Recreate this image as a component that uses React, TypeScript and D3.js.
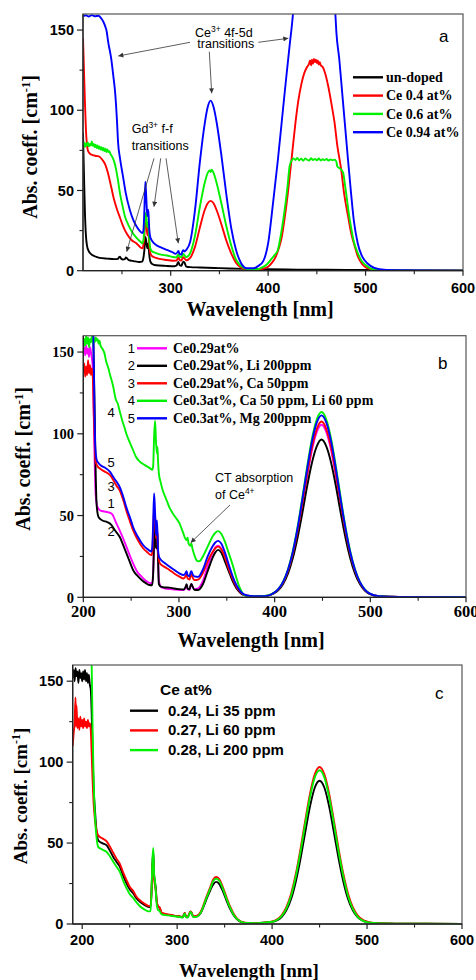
import React from "react";
import * as d3 from "d3";

type Pt = [number, number];

const SERIF = "'Liberation Serif', 'Times New Roman', serif";
const SANS = "'Liberation Sans', Arial, sans-serif";

// ---------- panel a ----------
const legendA = ["un-doped", "Ce 0.4 at%", "Ce 0.6 at%", "Ce 0.94 at%"];
const colorsA = ["#000000", "#ff0000", "#00f000", "#0000ff"];

const undopedA: Pt[] = [
  [210, 86], [211, 60], [212, 36], [213, 22], [214, 16], [216, 12], [218, 10.5], [222, 9], [227, 8],
  [235, 7.5], [242, 7.2], [246, 7.4], [247, 8.5], [248, 8.8], [249, 7.6], [251, 7], [253, 7.2],
  [254, 8.3], [255, 7.8], [257, 6.6], [262, 6], [268, 5.4], [271, 5.8], [272, 8], [273, 13], [274, 21],
  [275, 18], [276, 14], [277, 17], [278, 10], [279, 6], [281, 4.2], [285, 3.4], [295, 3], [304, 2.8],
  [306, 3.2], [307, 4.6], [308, 5.5], [309, 3.6], [311, 3], [312, 4.5], [313, 5.6], [314, 5.2],
  [316, 2.6], [320, 2.2], [330, 2], [345, 1.7], [360, 1.4], [380, 1.1], [400, 0.9], [430, 0.7],
  [460, 0.6], [500, 0.4], [550, 0.2], [600, 0.1],
];

const ce04A: Pt[] = [
  [210, 145], [211, 125], [212, 105], [213, 88], [214, 79], [215, 75], [217, 73], [220, 72], [224, 71.5],
  [227, 71], [230, 69], [233, 66], [236, 60], [239, 52], [242, 44], [245, 38], [248, 33], [251, 28],
  [255, 23], [260, 19], [265, 17], [269, 14.5], [271, 14], [272, 16], [273, 22], [274, 32], [275, 30],
  [276, 22], [277, 26], [278, 16], [279, 11], [281, 9], [285, 8], [290, 7.2], [296, 6.7], [302, 6.2],
  [306, 6.3], [307, 7.5], [308, 8.2], [309, 6.8], [311, 6.3], [312, 7.6], [313, 8.4], [314, 7.8],
  [316, 6.5], [320, 8], [325, 15], [330, 27], [335, 38], [338, 42], [341, 43.5], [344, 42], [347, 38],
  [352, 29], [357, 19], [362, 11], [367, 5], [372, 2], [378, 0.8], [386, 0.6], [393, 1], [400, 2.5],
  [404, 5], [408, 9], [411, 14], [414, 21], [417, 33], [420, 47], [422, 58], [425, 75], [428, 92],
  [431, 106], [434, 116], [437, 123], [440, 127], [442, 129], [443, 131], [444, 128], [445, 131.5],
  [446, 129], [447, 132], [448, 130], [449, 131.5], [450, 129.5], [451, 131], [452, 128.5], [453, 130],
  [454, 128], [456, 127], [459, 122], [462, 114], [465, 104], [468, 93], [471, 78], [475, 63], [478, 48],
  [482, 34], [485, 24], [489, 15], [492, 9], [496, 4.5], [500, 2.2], [505, 1], [512, 0.4], [530, 0.1],
  [600, 0],
];

const ce06A: Pt[] = [
  [210, 78], [211, 80], [212, 77], [213, 79.5], [214, 78], [215, 80], [216, 77.5], [217, 79], [218, 78],
  [219, 80.5], [220, 77.8], [221, 79], [222, 77], [223, 78.5], [224, 76.5], [225, 78], [226, 76],
  [227, 77.5], [228, 75.5], [229, 77], [230, 75], [231, 76.5], [232, 74.5], [233, 76], [234, 74],
  [235, 75.5], [236, 74], [237, 74.5], [238, 73], [240, 71], [242, 68], [244, 63], [246, 56], [248, 48],
  [250, 42], [253, 34], [257, 28], [261, 23.5], [265, 20.5], [269, 18], [271, 17], [272, 19], [273, 26],
  [274, 36], [275, 34], [276, 27], [277, 30], [278, 20], [279, 14], [281, 12], [285, 11], [290, 10],
  [296, 9.5], [302, 8.5], [306, 8.3], [307, 9.5], [308, 10.2], [309, 8.8], [311, 8.3], [312, 9.6],
  [313, 10.4], [314, 9.8], [316, 8.5], [320, 11], [325, 22], [330, 40], [335, 55], [338, 61], [340, 62.5],
  [341, 61.5], [342, 63], [344, 61], [347, 55], [352, 42], [357, 28], [362, 16], [367, 7], [372, 3],
  [378, 1], [386, 0.8], [392, 1.5], [398, 3.5], [403, 7], [407, 10], [410, 13], [413, 22], [417, 38],
  [420, 53], [422, 65], [424, 68.5], [426, 70], [428, 69], [430, 70.2], [432, 68.8], [434, 69.8],
  [436, 68.5], [438, 70], [440, 69.2], [442, 68.6], [444, 70.1], [446, 69], [448, 69.7], [450, 68.8],
  [452, 69.9], [454, 68.7], [456, 69.5], [458, 68.9], [460, 69.6], [462, 68.6], [464, 69.4], [466, 68.8],
  [468, 69.2], [470, 68], [471, 65], [473, 64], [475, 63], [477, 61], [479, 53], [481, 44], [483, 35],
  [485, 27.5], [488, 18], [492, 11], [496, 6], [500, 3.5], [505, 1.5], [512, 0.5], [530, 0.1], [600, 0],
];

const ce094A: Pt[] = [
  [210, 158.5], [213, 159.2], [216, 158.4], [219, 159.3], [222, 158.6], [226, 158.9], [229, 157],
  [231, 155], [233, 152], [234, 150], [236, 142], [239, 132], [241, 122], [243, 111], [245, 92], [246, 80],
  [248, 70], [251, 59], [254, 48], [258, 38], [262, 31], [265, 27.5], [268, 25], [271, 23.5], [272, 25],
  [273, 38], [274, 55.5], [275, 45], [276, 34], [277, 38], [278, 26], [279, 21], [281, 18.5], [285, 16],
  [290, 14.5], [296, 13], [302, 11.5], [305, 10.5], [307, 11.5], [308, 12.3], [309, 10.5], [311, 10],
  [312, 12], [313, 12.8], [314, 12], [316, 13], [320, 18], [325, 38], [330, 68], [335, 92], [338, 102],
  [341, 106], [344, 102], [347, 93], [352, 72], [357, 48], [362, 27], [367, 13], [372, 5], [378, 1.5],
  [385, 1.5], [390, 3], [395, 6], [400, 17], [405, 42], [410, 69], [414, 93], [418, 117], [422, 140],
  [425.5, 160], [427, 172], [467, 172], [469, 160], [470, 149], [473, 132], [476, 111], [479, 90],
  [482, 69], [485, 49], [488, 31], [492, 17], [496, 9.5], [499, 6.5], [505, 3], [514, 1], [530, 0.3],
  [600, 0],
];

// ---------- panel b ----------
const legendB = [
  "Ce0.29at%",
  "Ce0.29at%, Li 200ppm",
  "Ce0.29at%, Ca 50ppm",
  "Ce0.3at%, Ca 50 ppm, Li 60 ppm",
  "Ce0.3at%, Mg 200ppm",
];
const colorsB = ["#ff00ff", "#000000", "#ff0000", "#00f000", "#0000ff"];
const curveTagsB: [string, number][] = [["4", 416.7], ["5", 466.7], ["3", 491], ["1", 507.7], ["2", 535.7]];

const s1B: Pt[] = [
  [200, 150], [201, 153], [202, 148], [203, 154], [204, 149], [205, 152], [206, 147], [207, 153],
  [208, 150], [209, 146], [210, 140], [211, 110], [212, 80], [213, 62], [215, 55], [218, 53],
  [222, 52.5], [226, 52], [230, 51], [234, 46], [238, 41], [242, 35.5], [245, 31], [249, 25],
  [252, 20.8], [256, 16], [261, 12.6], [265, 10.3], [269, 8.8], [272, 8.6], [273, 15], [274, 36],
  [275, 45], [276, 30], [277, 44], [278, 28], [279, 10], [281, 6.5], [285, 5.5], [290, 5], [295, 4.8],
  [300, 4.5], [305, 4.4], [307, 6], [308, 7.5], [309, 5], [311, 4.5], [312, 6.5], [313, 8], [314, 6.8],
  [316, 5], [320, 5.5], [325, 10], [330, 19], [335, 27], [338, 30.5], [341, 31.5], [344, 30], [348, 25],
  [352, 18], [356, 12], [360, 7], [364, 3.5], [368, 1.6], [375, 0.7], [385, 0.6], [393, 1],
  [399, 2.6], [404, 4.8], [409, 9], [414, 16], [419, 26.5], [424, 40], [429, 56.5], [434, 74], [439, 90],
  [444, 101], [449, 105.5], [454, 101], [459, 90], [464, 74], [469, 56.5], [474, 40], [479, 26.2],
  [484, 15.8], [489, 8.9], [494, 4.6], [499, 2.3], [509, 0.6], [530, 0.2], [600, 0.1],
];

const s2B: Pt[] = [
  [200, 175], [209, 175], [210.4, 160], [212, 110], [213, 75], [214, 56], [216, 49], [220, 47],
  [225, 46], [229, 44.5], [233, 41], [238, 37], [242, 31.5], [245, 27], [249, 21], [252, 16.7],
  [256, 13.5], [261, 10.6], [265, 8.8], [269, 7.5], [272, 7.4], [273, 14], [274, 35], [274.5, 47],
  [275.5, 32], [276.5, 30], [277, 43], [278, 26], [279, 8], [281, 6.5], [285, 6], [290, 5.9], [295, 5.4],
  [300, 5], [305, 4.8], [307, 6.5], [308, 8], [309, 5.3], [311, 4.9], [312, 7], [313, 8.1], [314, 7],
  [316, 4.6], [320, 4.5], [325, 8], [330, 16], [335, 24], [338, 27.5], [341, 29], [344, 27.5], [348, 22],
  [352, 16], [356, 10], [360, 5.5], [364, 2.8], [368, 1.3], [375, 0.6], [385, 0.5], [393, 0.9],
  [399, 2.3], [404, 4.4], [409, 8.3], [414, 14.6], [419, 24], [424, 36.6], [429, 51.7], [434, 68],
  [439, 82.3], [444, 92.3], [449, 96.5], [454, 92.3], [459, 82.3], [464, 68], [469, 51.7], [474, 36.6],
  [479, 23.9], [484, 14.5], [489, 8.2], [494, 4.2], [499, 2.1], [509, 0.6], [530, 0.2], [600, 0.1],
];

const s3B: Pt[] = [
  [200, 138], [201, 143], [202, 135], [203, 141], [204, 136], [205, 145], [206, 137], [207, 142],
  [208, 136], [209, 140], [210, 134], [211, 112], [212, 92], [213, 83], [215, 80], [218, 78.5],
  [222, 77], [228, 74.7], [232, 71], [235, 68], [238, 65.5], [242, 59], [245, 53], [249, 46], [252, 41],
  [257, 35], [262.5, 30], [267, 27.5], [271, 25.8], [272, 27], [273, 40], [274, 55], [275, 50],
  [276, 36], [277, 42], [278, 28], [279, 23], [280, 20.8], [285, 18.6], [290, 16.7], [295, 14.6],
  [300, 12.8], [305, 11.5], [307, 13], [308, 14], [309, 11.5], [311, 10.8], [312, 13], [313, 14],
  [314, 12.5], [316, 10.5], [320, 10.8], [325, 15], [330, 22], [335, 27.5], [338, 30], [341, 31],
  [344, 29.5], [348, 24.5], [352, 17.5], [356, 11.5], [360, 6.5], [364, 3.3], [368, 1.5], [375, 0.7],
  [385, 0.6], [393, 1], [399, 2.6], [404, 4.9], [409, 9.2], [414, 16.3], [419, 26.8], [424, 40.8],
  [429, 57.7], [434, 75.6], [439, 91.7], [444, 102.9], [449, 107.5], [454, 102.9], [459, 91.7],
  [464, 75.6], [469, 57.7], [474, 40.8], [479, 26.6], [484, 16.2], [489, 9.1], [494, 4.7], [499, 2.3],
  [509, 0.6], [530, 0.2], [600, 0.1],
];

const s4B: Pt[] = [
  [200, 152], [201, 158], [202, 154], [203, 160], [204, 155], [205, 159], [206, 153], [207, 158],
  [208, 156], [209, 160], [210, 155], [211, 158], [212, 156], [213, 159], [214, 157], [215, 158],
  [216, 155], [217, 157], [218, 154], [220, 152], [222, 149.5], [224, 144], [226, 140.5], [228, 136],
  [231, 129.5], [234, 121], [236, 118.5], [238, 114], [241, 107.5], [243, 104], [245, 100], [248, 95.5],
  [252, 90], [255, 86], [259, 83], [264, 81], [269.5, 79], [272, 78], [273, 80], [274, 98], [275, 108],
  [276, 95], [277, 88], [277.5, 92], [278, 85], [279, 75.7], [281, 70], [283, 65.5], [286, 61],
  [290, 55], [295, 50], [300.7, 45], [304, 40], [307.7, 35], [309, 36.5], [310, 33], [312, 31.5],
  [313, 33], [314, 30], [316, 26], [318, 23], [320, 22], [322, 22.3], [325, 25], [330, 31], [335, 37],
  [338, 39.5], [341, 40.5], [344, 39], [348, 34], [352, 27], [356, 20], [360, 12], [363, 6.5], [366, 3],
  [368, 1.4], [375, 0.8], [385, 0.7], [393, 1.2], [399, 2.7], [404, 5.2], [409, 9.8], [414, 17.2],
  [419, 28.4], [424, 43.2], [429, 61.2], [434, 80], [439, 97], [444, 108.7], [449, 113.3], [454, 108.7],
  [459, 97], [464, 80], [469, 61.2], [474, 43], [479, 28.2], [484, 17], [489, 9.6], [494, 5], [499, 2.5],
  [509, 0.7], [530, 0.2], [600, 0.1],
];

const s5B: Pt[] = [
  [200, 175], [209, 175], [210.5, 160], [211.5, 120], [212.5, 92], [214, 84], [216, 82], [218, 80.8],
  [222, 79.5], [228, 76.7], [232, 73], [235, 70.5], [238, 67.5], [242, 61], [245, 55], [249, 48.5],
  [252, 43], [257, 37], [262.5, 32], [267, 29.5], [271, 28], [272, 30], [273, 45], [274, 63.5],
  [275, 52], [276, 38], [277, 47], [278, 30], [279, 25], [280, 23.8], [285, 21], [290, 18.8],
  [295, 16.8], [300, 14.8], [305, 13.6], [307, 15], [308, 16], [309, 13.5], [311, 12.8], [312, 15],
  [313, 16], [314, 14.5], [316, 12.8], [320, 12.5], [325, 17], [330, 25], [335, 31], [338, 33.5],
  [341, 34.5], [344, 33], [348, 27.5], [352, 20], [356, 13], [360, 7.5], [364, 3.8], [368, 1.8],
  [375, 0.8], [385, 0.6], [393, 1], [399, 2.6], [404, 5.1], [409, 9.6], [414, 17], [419, 27.8],
  [424, 42.4], [429, 60], [434, 78.6], [439, 95.2], [444, 106.8], [449, 111.3], [454, 106.8],
  [459, 95.2], [464, 78.6], [469, 59.8], [474, 42.3], [479, 27.6], [484, 16.8], [489, 9.4], [494, 4.9],
  [499, 2.4], [509, 0.7], [530, 0.2], [600, 0.1],
];

// ---------- panel c ----------
const legendC = ["0.24, Li 35 ppm", "0.27, Li 60 ppm", "0.28, Li 200 ppm"];
const colorsC = ["#000000", "#ff0000", "#00f000"];

const li35C: Pt[] = [
  [190, 152], [191, 157], [192, 150], [193, 158], [194, 153], [195, 156], [196, 149], [197, 157],
  [198, 152], [199, 155], [200, 150], [201, 156], [202, 151], [203, 157], [204, 150], [205, 155],
  [206, 149], [207, 154], [208, 148], [209, 145], [210, 130], [211, 105], [212, 85], [213.5, 70],
  [215, 58], [217, 51.6], [221, 50], [225.8, 48.6], [229, 45.5], [232.7, 41.4], [236, 38.5],
  [239.8, 35.2], [243, 30], [246.8, 25], [250, 21.5], [253.8, 18.9], [257, 16], [260.8, 13.7],
  [265, 12], [269.6, 10.6], [272, 10.5], [273, 20], [274, 38], [274.9, 44.4], [275.8, 30], [276.6, 26],
  [277.5, 22], [278.5, 14], [280, 10.6], [281.5, 10], [283.7, 6.6], [288, 5.8], [292, 5.5], [297, 5],
  [303, 4.5], [306, 4.2], [307, 5.6], [308, 6.6], [309, 4.8], [311, 4.2], [313, 6.5], [314, 7.6],
  [315, 7], [317, 4.5], [321, 4.8], [325, 7], [330, 14], [335, 21], [338, 24.5], [341, 26], [344, 25],
  [348, 20.5], [352, 14.5], [356, 9], [360, 5], [364, 2.5], [368, 1.2], [375, 0.6], [385, 0.5],
  [393, 1], [400, 1.3], [405, 2.2], [410, 4.3], [415, 8.4], [420, 15.4], [425, 26.3], [430, 40.6],
  [435, 57], [440, 72.8], [445, 84.3], [450, 88.5], [455, 84.3], [460, 72.8], [465, 57], [470, 40.6],
  [475, 26.3], [480, 15.4], [485, 8.4], [490, 4.3], [495, 2.2], [500, 1.2], [510, 0.5], [530, 0.2],
  [600, 0.1],
];

const li60C: Pt[] = [
  [190, 110], [191, 118], [192, 124], [193, 140], [193.5, 122], [194, 135], [195, 121], [196, 127],
  [197, 120], [198, 128], [199, 122], [200, 126], [201, 121], [202, 127], [203, 122], [204, 125],
  [205, 121], [206, 126], [207, 122], [208, 124], [209, 120], [210, 105], [211, 88], [212, 75],
  [213.5, 64], [215, 58], [217, 54.6], [221, 53], [225.8, 51], [229, 48], [232.7, 44], [236, 40.5],
  [239.8, 37], [243, 32], [246.8, 27], [250, 23], [253.8, 20.3], [257, 17], [260.8, 14.7], [265, 12.8],
  [269.6, 11.2], [272, 11], [273, 19], [274, 35], [274.9, 41], [275.8, 28], [276.6, 24], [277.5, 20.5],
  [278.5, 14], [280, 11], [281.5, 10.3], [283.7, 7], [288, 6.2], [292, 5.7], [297, 5.2], [303, 4.7],
  [306, 4.4], [307, 5.8], [308, 6.8], [309, 5], [311, 4.4], [313, 6.7], [314, 7.8], [315, 7.2],
  [317, 4.8], [321, 5.2], [325, 7.8], [330, 15.5], [335, 23], [338, 27.5], [341, 29], [344, 28],
  [348, 23], [352, 16.5], [356, 10.5], [360, 5.8], [364, 2.8], [368, 1.3], [375, 0.6], [385, 0.5],
  [393, 1], [400, 1.6], [405, 2.8], [410, 5.4], [415, 10.4], [420, 18.7], [425, 31], [430, 46.6],
  [435, 64.2], [440, 80.7], [445, 92.6], [450, 97], [455, 92.6], [460, 80.7], [465, 64.2], [470, 46.6],
  [475, 31], [480, 18.7], [485, 10.4], [490, 5.4], [495, 2.8], [500, 1.5], [510, 0.5], [530, 0.2],
  [600, 0.1],
];

const li200C: Pt[] = [
  [190, 175], [209, 175], [210, 160], [211, 120], [212, 90], [213.5, 66], [215, 54], [217, 47.5],
  [221, 46], [225.8, 44.5], [229, 42], [232.7, 38.5], [236, 35.5], [239.8, 32], [243, 27],
  [246.8, 22], [250, 18.5], [253.8, 16], [257, 13.5], [260.8, 11], [265, 9.2], [269.6, 7.8], [272, 8],
  [273, 20], [274, 40], [274.9, 47], [275.8, 30], [276.6, 27], [277.5, 20], [278.5, 12], [280, 8.5],
  [281.5, 8], [283.7, 6], [288, 5.5], [292, 5.2], [297, 4.8], [303, 4.3], [306, 4], [307, 5.4],
  [308, 6.4], [309, 4.6], [311, 4], [313, 6.3], [314, 7.4], [315, 6.8], [317, 4.3], [321, 4.6],
  [325, 7.2], [330, 14.8], [335, 22], [338, 26.5], [341, 28], [344, 27], [348, 22], [352, 15.5],
  [356, 9.8], [360, 5.3], [364, 2.6], [368, 1.2], [375, 0.6], [385, 0.5], [393, 1], [400, 1.4],
  [405, 2.5], [410, 4.9], [415, 9.5], [420, 17.4], [425, 29.5], [430, 44.8], [435, 62.2], [440, 78.6],
  [445, 90.6], [450, 95], [455, 90.6], [460, 78.6], [465, 62.2], [470, 44.8], [475, 29.4], [480, 17.3],
  [485, 9.3], [490, 4.6], [495, 2.2], [500, 1.1], [510, 0.5], [530, 0.2], [600, 0.1],
];

const yMajor = [0, 50, 100, 150];
const yMinor = [25, 75, 125];
const xMajorA = [300, 400, 500, 600];
const xMajorBC = [200, 300, 400, 500, 600];
const xMinor = [250, 350, 450, 550];

type Cfg = {
  id: string;
  left: number; right: number; top: number; bottom: number;
  xDomain: [number, number];
  xMajor: number[];
  series: Pt[][];
  colors: string[];
  yTickFont: string; yTickSize: number; yTickEnd: number;
  xTickFont: string; xTickSize: number; xTickBase: number;
  yTitle: [number, number]; xTitle: [number, number]; titleSize: number;
  letter: string; letterPos: [number, number];
};

function Panel({ c, children }: { c: Cfg; children?: React.ReactNode }) {
  const x = d3.scaleLinear().domain(c.xDomain).range([c.left, c.right]);
  const y = d3.scaleLinear().domain([0, 160]).range([c.bottom, c.top]);
  const line = d3
    .line<Pt>()
    .x((d) => x(d[0]))
    .y((d) => y(d[1]))
    .curve(d3.curveMonotoneX);
  return (
    <g>
      <defs>
        <clipPath id={`clip-${c.id}`}>
          <rect x={c.left} y={c.top} width={c.right - c.left} height={c.bottom - c.top} />
        </clipPath>
      </defs>
      <g clipPath={`url(#clip-${c.id})`}>
        {c.series.map((s, i) => (
          <path key={i} d={line(s) || ""} fill="none" stroke={c.colors[i]} strokeWidth={1.9} strokeLinejoin="round" />
        ))}
      </g>
      <rect x={c.left} y={c.top} width={c.right - c.left} height={c.bottom - c.top} fill="none" stroke="#555" strokeWidth={1.2} />
      <line x1={c.left} x2={c.right} y1={c.bottom} y2={c.bottom} stroke="#222" strokeWidth={1.3} />
      <line x1={c.left} x2={c.left} y1={c.top} y2={c.bottom} stroke="#222" strokeWidth={1.3} />
      {yMajor.map((v) => (
        <g key={`ym${v}`}>
          <line x1={c.left - 6} x2={c.left} y1={y(v)} y2={y(v)} stroke="#222" strokeWidth={1.2} />
          <text x={c.yTickEnd} y={y(v)} dy="0.36em" textAnchor="end" fontFamily={c.yTickFont} fontWeight="bold" fontSize={c.yTickSize}>
            {v}
          </text>
        </g>
      ))}
      {yMinor.map((v) => (
        <line key={`yn${v}`} x1={c.left - 3.5} x2={c.left} y1={y(v)} y2={y(v)} stroke="#222" strokeWidth={1.1} />
      ))}
      {c.xMajor.map((v) => (
        <g key={`xm${v}`}>
          <line x1={x(v)} x2={x(v)} y1={c.bottom} y2={c.bottom + 5} stroke="#222" strokeWidth={1.2} />
          <text x={x(v)} y={c.xTickBase} textAnchor="middle" fontFamily={c.xTickFont} fontWeight="bold" fontSize={c.xTickSize}>
            {v}
          </text>
        </g>
      ))}
      {xMinor.map((v) => (
        <line key={`xn${v}`} x1={x(v)} x2={x(v)} y1={c.bottom} y2={c.bottom + 3.5} stroke="#222" strokeWidth={1.1} />
      ))}
      <text
        transform={`translate(${c.yTitle[0]},${c.yTitle[1]}) rotate(-90)`}
        textAnchor="middle"
        fontFamily={SERIF}
        fontWeight="bold"
        fontSize={c.titleSize}
      >
        Abs. coeff. [cm
        <tspan dy={-7} fontSize={c.titleSize * 0.62}>-1</tspan>
        <tspan dy={7}>]</tspan>
      </text>
      <text x={c.xTitle[0]} y={c.xTitle[1]} textAnchor="middle" fontFamily={SERIF} fontWeight="bold" fontSize={c.titleSize}>
        Wavelength [nm]
      </text>
      <text x={c.letterPos[0]} y={c.letterPos[1]} fontFamily={SANS} fontSize={17}>
        {c.letter}
      </text>
      {children}
    </g>
  );
}

const cfgA: Cfg = {
  id: "a", left: 83, right: 463, top: 14, bottom: 270.7, xDomain: [210, 600], xMajor: xMajorA,
  series: [undopedA, ce04A, ce06A, ce094A], colors: colorsA,
  yTickFont: SANS, yTickSize: 14.5, yTickEnd: 74,
  xTickFont: SANS, xTickSize: 14.5, xTickBase: 292.7,
  yTitle: [36.5, 147], xTitle: [260, 315.5], titleSize: 20,
  letter: "a", letterPos: [439, 41.7],
};
const cfgB: Cfg = {
  id: "b", left: 83.3, right: 466, top: 335.7, bottom: 597.3, xDomain: [200, 600], xMajor: xMajorBC,
  series: [s1B, s2B, s3B, s4B, s5B], colors: colorsB,
  yTickFont: SERIF, yTickSize: 14.5, yTickEnd: 74,
  xTickFont: SERIF, xTickSize: 16.5, xTickBase: 616.7,
  yTitle: [30, 459], xTitle: [251, 646.5], titleSize: 20,
  letter: "b", letterPos: [438, 369],
};
const cfgC: Cfg = {
  id: "c", left: 72.7, right: 462, top: 665, bottom: 924, xDomain: [190, 600], xMajor: xMajorBC,
  series: [li35C, li60C, li200C], colors: colorsC,
  yTickFont: SANS, yTickSize: 14.5, yTickEnd: 63.3,
  xTickFont: SANS, xTickSize: 14.5, xTickBase: 945,
  yTitle: [26.7, 796], xTitle: [249, 976.7], titleSize: 19,
  letter: "c", letterPos: [435, 699],
};

// annotation arrows (pixel positions, panel a and b)
const arrowsA: [number, number, number, number][] = [
  [190, 42.3, 118.3, 56],
  [258.3, 42.3, 288.3, 38.3],
  [209.3, 51.7, 211.7, 93.3],
  [154, 158.3, 126.7, 251.7],
  [160.7, 158.3, 154, 206.7],
  [166, 158.3, 178.3, 243.3],
];
const arrowsB: [number, number, number, number][] = [[230, 505, 190.7, 542.7]];

function Arrows({ list }: { list: [number, number, number, number][] }) {
  return (
    <g>
      {list.map((a, i) => (
        <line key={i} x1={a[0]} y1={a[1]} x2={a[2]} y2={a[3]} stroke="#333" strokeWidth={0.8} markerEnd="url(#arrowhead)" />
      ))}
    </g>
  );
}

export default function App() {
  const ann = { fontFamily: SANS, fontSize: 12.5 };
  return (
    <div style={{ position: "absolute", left: 0, top: 0 }}>
      <svg width={476} height={980} style={{ display: "block", background: "#fff" }}>
        <defs>
          <marker id="arrowhead" viewBox="0 0 10 10" refX="10" refY="5" markerWidth="7" markerHeight="5" markerUnits="userSpaceOnUse" orient="auto">
            <path d="M0,0 L10,5 L0,10 z" fill="#333" />
          </marker>
        </defs>

        <Panel c={cfgA}>
          {legendA.map((t, i) => (
            <g key={t}>
              <line x1={353} x2={383} y1={77.3 + i * 18.3} y2={77.3 + i * 18.3} stroke={colorsA[i]} strokeWidth={2.4} />
              <text x={386} y={82 + i * 18.3} fontFamily={SERIF} fontWeight="bold" fontSize={14}>{t}</text>
            </g>
          ))}
          <text x={195} y={36.7} {...ann}>
            Ce<tspan dy={-5} fontSize={8.5}>3+</tspan><tspan dy={5}> 4f-5d</tspan>
          </text>
          <text x={197.3} y={47.7} {...ann}>transitions</text>
          <text x={131.7} y={133.3} {...ann}>
            Gd<tspan dy={-5} fontSize={8.5}>3+</tspan><tspan dy={5}> f-f</tspan>
          </text>
          <text x={131.7} y={150} {...ann}>transitions</text>
          <Arrows list={arrowsA} />
        </Panel>

        <Panel c={cfgB}>
          {legendB.map((t, i) => (
            <g key={t}>
              <text x={135} y={352.5 + i * 17.5} textAnchor="end" fontFamily={SANS} fontSize={13}>{i + 1}</text>
              <line x1={137} x2={167} y1={348.3 + i * 17.5} y2={348.3 + i * 17.5} stroke={colorsB[i]} strokeWidth={2.4} />
              <text x={173} y={352.5 + i * 17.5} fontFamily={SERIF} fontWeight="bold" fontSize={14}>{t}</text>
            </g>
          ))}
          {curveTagsB.map(([t, yy]) => (
            <text key={t} x={111} y={yy} textAnchor="middle" fontFamily={SANS} fontSize={13}>{t}</text>
          ))}
          <text x={215} y={481.7} {...ann}>CT absorption</text>
          <text x={215} y={499.3} {...ann}>
            of Ce<tspan dy={-5} fontSize={8.5}>4+</tspan>
          </text>
          <Arrows list={arrowsB} />
        </Panel>

        <Panel c={cfgC}>
          <text x={160} y={695} fontFamily={SANS} fontWeight="bold" fontSize={15.5}>Ce at%</text>
          {legendC.map((t, i) => (
            <g key={t}>
              <line x1={130} x2={158} y1={710.7 + i * 19.7} y2={710.7 + i * 19.7} stroke={colorsC[i]} strokeWidth={2.4} />
              <text x={168} y={715.5 + i * 19.7} fontFamily={SANS} fontWeight="bold" fontSize={15}>{t}</text>
            </g>
          ))}
        </Panel>
      </svg>
    </div>
  );
}
